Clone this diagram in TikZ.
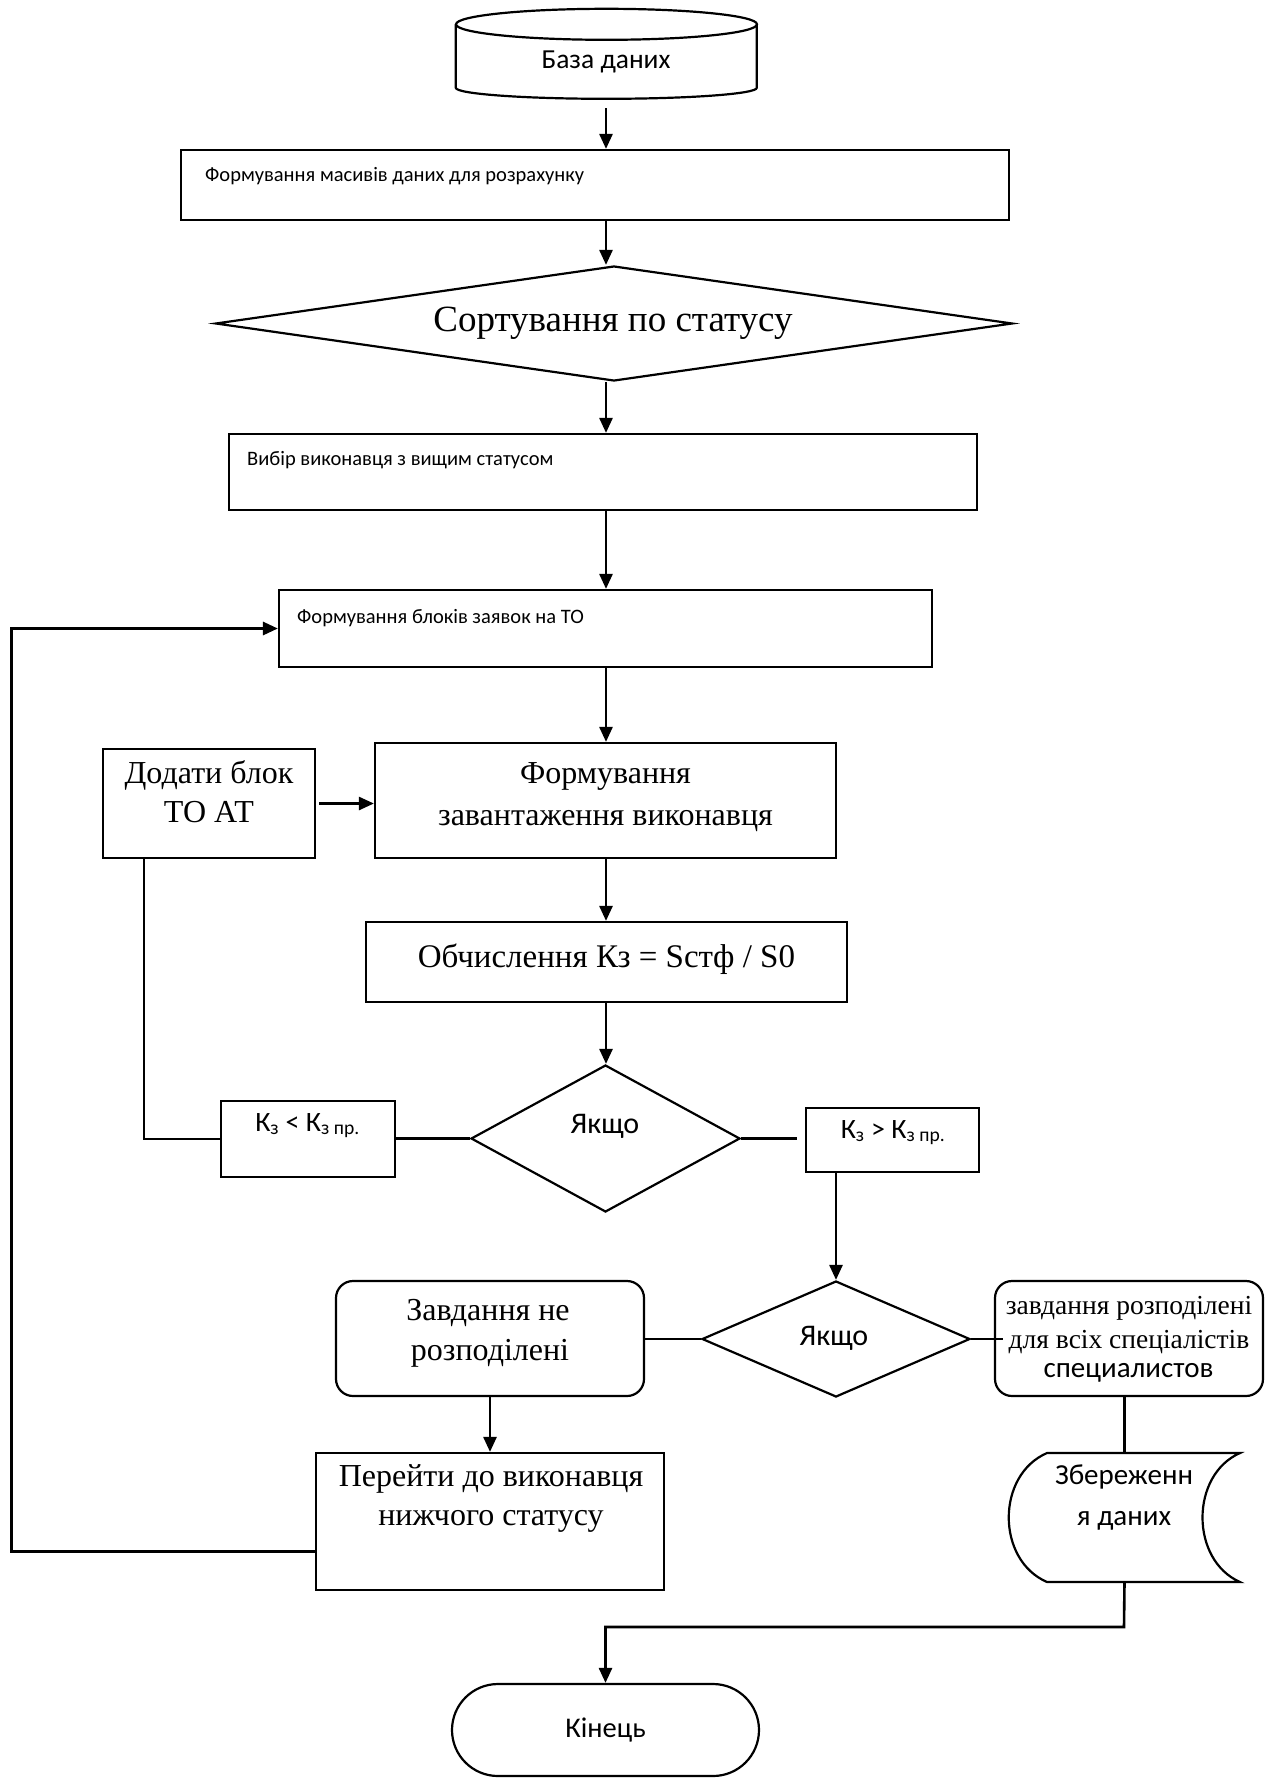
\documentclass[tikz,border=0pt]{standalone}
\usepackage{fontspec}
\setmainfont{Liberation Serif}
\newfontfamily\cfont{Carlito}
\usetikzlibrary{arrows.meta,shapes.geometric,shapes.misc,calc}
\newcommand\fsz[1]{\fontsize{#1}{#1}\selectfont}

\tikzset{
  ln/.style={line width=2.2pt},
  box/.style={draw, ln, rectangle, inner sep=0pt},
  rbox/.style={box, rounded corners=17pt},
  dia/.style={draw, ln, diamond, inner sep=0pt},
  hold/.style={inner sep=0pt},
  txt/.style={inner sep=0pt, anchor=base},
  stxt/.style={txt, anchor=base west, font=\cfont\fsz{20.5}},
  serif/.style={txt, font=\fsz{32}},
  conn/.style={line width=2.4pt},
  arr/.style={line width=2.6pt, -{Triangle[length=15pt,width=13pt]}},
}

\begin{document}
\begin{tikzpicture}[x=1pt,y=-1pt]
\fill[white] (0,0) rectangle (1276,1778);
\useasboundingbox (0,0) rectangle (1276,1778);

% guide coordinates for the connectors
\coordinate (axis) at (606,0);
\coordinate (lx) at (144,0);
\coordinate (fbl) at (11,1551);
\coordinate (jn) at (1124,1627);

% database (cylinder)
\node[hold, minimum width=301pt, minimum height=90pt] (db) at (606.5,54) {};
\draw[ln] (db.north) ++(0,15.5) ellipse [x radius=150.5pt, y radius=15.5pt];
\draw[ln] (db.north west) ++(0,15.5) -- ++(0,63.5)
  arc[start angle=180, end angle=360, x radius=150.5pt, y radius=11pt] -- ++(0,-63.5);
\node[txt, font=\cfont\fsz{27.5}] (dbt) at (606,68) {База даних};

% preparation boxes
\node[box, minimum width=828pt, minimum height=70pt] (b1) at (595,185) {};
\node[stxt] (b1t) at (205,181.5) {Формування масивів даних для розрахунку};

\node[dia, minimum width=797pt, minimum height=115pt] (d1) at (614,323.5) {};
\node[txt, font=\fsz{37}] (d1t) at (613,331) {Сортування по статусу};

\node[box, minimum width=748pt, minimum height=76pt] (b2) at (603,472) {};
\node[stxt] (b2t) at (247,465.5) {Вибір виконавця з вищим статусом};

\node[box, minimum width=653pt, minimum height=77pt] (b3) at (605.5,628.5) {};
\node[stxt] (b3t) at (297,623.5) {Формування блоків заявок на ТО};

\node[box, minimum width=461pt, minimum height=115pt] (b4) at (605.5,800.5) {};
\node[serif] (b4a) at (605.5,783) {Формування};
\node[serif] (b4b) at (605.5,825) {завантаження виконавця};

\node[box, minimum width=212pt, minimum height=109pt] (dd) at (209,803.5) {};
\node[serif] (dda) at (209,783) {Додати блок};
\node[serif] (ddb) at (209,822) {ТО АТ};

\node[box, minimum width=481pt, minimum height=80pt] (b5) at (606.5,962) {};
\node[txt, font=\fsz{33}] (b5t) at (606.5,967) {Обчислення Кз = Sстф / S0};

% first decision
\node[dia, minimum width=269pt, minimum height=147pt] (d2) at (605.5,1138.5) {};
\node[txt, font=\cfont\fsz{30}] (d2t) at (605,1133) {Якщо};

\node[box, minimum width=174pt, minimum height=76pt] (lt) at (308,1139) {};
\node[txt, font=\cfont\fsz{28}] (ltt) at (307.5,1131) {К\textsubscript{з} < К\textsubscript{з пр.}};

\node[box, minimum width=173pt, minimum height=64pt] (gt) at (892.5,1140) {};
\node[txt, font=\cfont\fsz{28}] (gtt) at (893,1138) {К\textsubscript{з} > К\textsubscript{з пр.}};

% second decision
\node[dia, minimum width=268pt, minimum height=116pt] (d3) at (836,1339) {};
\node[txt, font=\cfont\fsz{30}] (d3t) at (834,1345) {Якщо};

\node[rbox, minimum width=308pt, minimum height=115pt] (nd) at (490,1338.5) {};
\node[serif] (nda) at (488,1320) {Завдання не};
\node[serif] (ndb) at (490,1360) {розподілені};

\node[rbox, minimum width=268pt, minimum height=115pt] (ok) at (1129,1338.5) {};
\node[txt, font=\fsz{27.5}] (oka) at (1129,1314) {завдання розподілені};
\node[txt, font=\fsz{27.5}] (okb) at (1129,1348) {для всіх спеціалістів};
\node[txt, font=\cfont\fsz{29}] (okc) at (1128.5,1377) {специалистов};

\node[box, minimum width=348pt, minimum height=137pt] (st) at (490,1521.5) {};
\node[serif] (sta) at (491,1486) {Перейти до виконавця};
\node[serif] (stb) at (491,1525) {нижчого статусу};

% stored data
\node[hold, minimum width=231pt, minimum height=129pt] (store) at (1124.5,1517.5) {};
\draw[ln] (1047,1453) -- (1240,1453)
  .. controls (1190,1475) and (1190,1560) .. (1240,1582)
  -- (1047,1582)
  .. controls (996,1560) and (996,1475) .. cycle;
\node[txt, font=\cfont\fsz{29}] (storea) at (1124,1484) {Збереженн};
\node[txt, font=\cfont\fsz{29}] (storeb) at (1124,1525) {я даних};

% terminator
\node[draw, ln, rounded rectangle, inner sep=0pt, minimum width=307pt, minimum height=92pt] (fin) at (605.5,1730) {};
\node[txt, font=\cfont\fsz{28.5}] (fint) at (605.5,1737) {Кінець};

% connectors along the main axis
\draw[arr, shorten <=9pt] (db.south -| axis) -- (b1.north -| axis);
\draw[arr] (b1.south -| axis) -- (d1.north -| axis);
\draw[arr] (d1.south -| axis) -- (b2.north -| axis);
\draw[arr] (b2.south -| axis) -- (b3.north -| axis);
\draw[arr] (b3.south -| axis) -- (b4.north -| axis);
\draw[arr] (b4.south -| axis) -- (b5.north -| axis);
\draw[arr] (b5.south -| axis) -- (d2.north -| axis);
\draw[arr, shorten <=3pt] (dd.east) -- (dd.east -| b4.west);

% first decision branches
\draw[conn] (d2.west) -- (d2.west -| lt.east);
\draw[conn] (lt.west) -| (lx |- dd.south);
\draw[conn, shorten >=8pt] (d2.east) -- (d2.east -| gt.west);
\draw[arr] (d3.north |- gt.south) -- (d3.north);

% second decision branches
\draw[conn] (d3.west) -- (nd.east |- d3.west);
\draw[conn, shorten >=-9pt] (d3.east) -- (ok.west |- d3.east);
\draw[arr] (nd.south) -- (st.north);
\draw[conn] (store.north |- ok.south) -- (store.north);
\draw[arr] (store.south) -- (jn) -| (fin.north);

% loop back to the request blocks
\draw[arr, line width=3pt] (st.west |- fbl) -- (fbl) |- (b3.west);
\end{tikzpicture}
\end{document}
